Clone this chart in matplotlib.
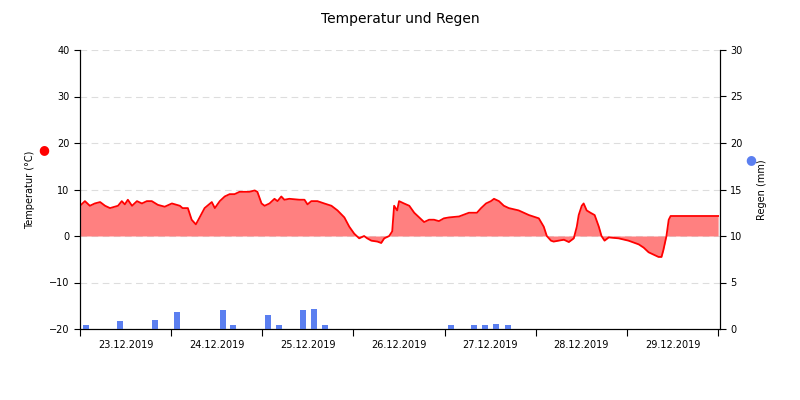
import numpy as np
import matplotlib
matplotlib.use("Agg")
import matplotlib.pyplot as plt

# hours since 23.12.2019 00:00
temp_hours = [0, 1.3, 2.6, 3.9, 5.3, 6.6, 7.9, 10, 11, 11.8, 12.6, 13.7, 15, 16.3, 17.6, 18.9, 20.5, 22.3,
              24.2, 26.3, 27, 28.4, 29.4, 30.5, 31.5, 32.8, 34.7, 35.5, 36.8, 38.1, 39.4, 40.7, 42, 43.3,
              44.6, 46, 46.7, 47.8, 48.6, 49.9, 51.2, 52, 53, 53.8, 55.1, 57.8, 59.1, 59.9, 60.9, 62.5,
              64.3, 66.2, 67.8, 69.6, 70.9, 72.2, 73.5, 74.8, 75.6, 76.7, 78.3, 79.3, 80.1, 81.4, 82.2,
              82.7, 83.5, 84, 85.3, 86.7, 88, 89.3, 90.6, 91.9, 93.2, 94.5, 95.8, 97.2, 99.8, 102.4,
              104.5, 105.6, 106.9, 108.2, 109, 110.3, 111.6, 112.9, 115.5, 118.2, 120.8, 122.1, 122.9,
              124, 124.7, 126, 127.4, 128.7, 130, 130.8, 131.3, 132.1, 132.6, 133.4, 134.4, 135.5,
              136.6, 137.3, 138.1, 139.2, 141.8, 144.4, 147.1, 148.4, 149.7, 151, 152.3, 153.1, 153.6,
              154.4, 155, 155.5, 168]
temp_values = [6.5, 7.5, 6.5, 7, 7.3, 6.5, 6, 6.5, 7.5, 6.8, 7.8, 6.5, 7.5, 7, 7.5, 7.5, 6.7, 6.3,
               7, 6.5, 6, 6, 3.5, 2.5, 4, 6, 7.3, 6, 7.5, 8.5, 9, 9, 9.5, 9.5,
               9.5, 9.8, 9.5, 7, 6.5, 7, 8, 7.5, 8.5, 7.8, 8, 7.8, 7.8, 6.8, 7.5, 7.5,
               7, 6.5, 5.5, 4, 2, 0.5, -0.5, 0, -0.5, -1, -1.2, -1.5, -0.5, 0, 1,
               6.5, 5.5, 7.5, 7, 6.5, 5, 4, 3, 3.5, 3.5, 3.2, 3.8, 4, 4.2, 5,
               5, 6, 7, 7.5, 8, 7.5, 6.5, 6, 5.5, 4.5, 3.8, 2, 0,
               -1, -1.2, -1, -0.8, -1.3, -0.5, 2, 4.5, 6.5, 7, 5.5, 5, 4.5,
               2, 0, -1, -0.3, -0.5, -1, -1.8, -2.5, -3.5, -4, -4.5, -4.5, -3,
               0, 3.5, 4.3, 4.3]

rain_hours = [1.6, 10.5, 19.7, 25.5, 37.6, 40.4, 49.4, 52.5, 58.6, 61.7, 64.6, 97.7, 103.7, 106.6, 109.5, 112.6]
rain_mm = [0.4, 0.9, 1.0, 1.8, 2.0, 0.4, 1.5, 0.4, 2.0, 2.1, 0.4, 0.4, 0.4, 0.4, 0.5, 0.4]

day_labels = ["23.12.2019", "24.12.2019", "25.12.2019", "26.12.2019",
              "27.12.2019", "28.12.2019", "29.12.2019"]

fig = plt.figure(figsize=(8, 4), dpi=100)
ax = fig.add_axes([0.1, 0.1775, 0.8, 0.6975])
ax2 = ax.twinx()

t = np.array(temp_hours)
v = np.array(temp_values)
ax.fill_between(t, v, 0, color="#ff8080", linewidth=0)
ax.plot(t, v, color="#ff0000", lw=1.3)
ax.set_ylim(-20, 40)
ax.set_xlim(0, 168.5)
ax.set_yticks(range(-20, 41, 10))
ax.yaxis.grid(True, color="#dddddd", linestyle=(0, (6, 4)), lw=0.8)
ax.set_axisbelow(True)

ax2.bar(rain_hours, rain_mm, width=1.6, color="#5b7ff0")
ax2.set_ylim(0, 30)
ax2.set_yticks(range(0, 31, 5))

ax.set_xticks(range(0, 169, 24))
ax.set_xticklabels([])
ax.set_xticks([12 + 24 * i for i in range(7)], minor=True)
ax.set_xticklabels(day_labels, minor=True)
ax.tick_params(axis="x", which="minor", length=0, labelsize=7, pad=8)
ax.tick_params(axis="x", which="major", length=5)
ax.tick_params(axis="y", labelsize=7, length=4)
ax2.tick_params(axis="y", labelsize=7, length=4)
for a in (ax, ax2):
    a.spines["top"].set_visible(False)

ax.set_ylabel("Temperatur (°C)", fontsize=7, labelpad=10)
ax2.set_ylabel("Regen (mm)", fontsize=7, labelpad=10)
fig.text(0.055, 0.625, "●", color="#ff0000", fontsize=9, ha="center", va="center")
fig.text(0.939, 0.6, "●", color="#5b7ff0", fontsize=9, ha="center", va="center")
fig.suptitle("Temperatur und Regen", y=0.97, fontsize=10)

fig.savefig("out.png", dpi=100)
